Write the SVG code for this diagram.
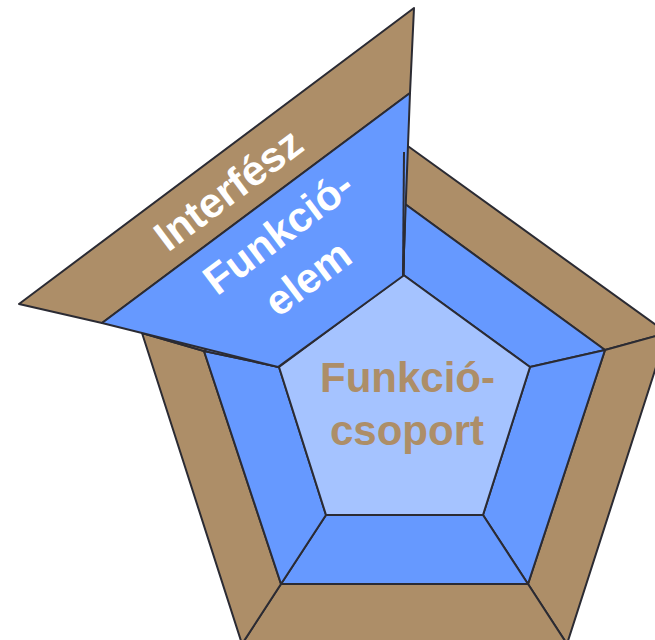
<svg xmlns="http://www.w3.org/2000/svg" width="655" height="640" viewBox="0 0 655 640">
<style>
.br{fill:#AD8E68;stroke:#2B2B33;stroke-width:2;stroke-linejoin:round}
.bl{fill:#6699FF;stroke:#2B2B33;stroke-width:2;stroke-linejoin:round}
.lb{fill:#A5C3FF;stroke:#2B2B33;stroke-width:2;stroke-linejoin:round}
.t{font-family:"Liberation Sans",Arial,sans-serif;font-weight:bold;font-size:42px;text-anchor:middle}
.w{fill:#FFFFFF}
.c{fill:#AD8E68}
</style>
<rect width="655" height="640" fill="#FFFFFF"/>
<g id="ring-outer">
<polygon class="br" points="405,144 667,333 605,350 405,204"/>
<polygon class="br" points="667,333 567,644 528,584 605,350"/>
<polygon class="br" points="567,644 242,644 281,584 528,584"/>
<polygon class="br" points="242,644 142,333 204,351 281,584"/>
<polygon class="br" points="142,333 405,144 405,204 204,351"/>
</g>
<g id="ring-middle">
<polygon class="bl" points="405,204 605,350 530,367 403.5,275"/>
<polygon class="bl" points="605,350 528,584 483,515 530,367"/>
<polygon class="bl" points="528,584 281,584 326,515 483,515"/>
<polygon class="bl" points="281,584 204,351 279,367 326,515"/>
<polygon class="bl" points="204,351 405,204 403.5,275 279,367"/>
</g>
<g id="funkcio-csoport">
<polygon class="lb" points="403.5,275 530,367 483,515 326,515 279,367"/>
<text class="t c" x="407.5" y="392">Funkció-</text>
<text class="t c" x="407" y="445">csoport</text>
</g>
<g id="interfesz">
<polygon class="br" points="414,8 19,304 102,323 410,93"/>
<text class="t w" transform="translate(237,201) rotate(-36.9)" x="0" y="0">Interfész</text>
</g>
<g id="funkcio-elem">
<polygon class="bl" points="410,93 102,323 278,367 403,276"/>
<g transform="translate(287,244) rotate(-36.9)">
<text class="t w" x="0" y="0">Funkció-</text>
<text class="t w" x="-4" y="54">elem</text>
</g>
</g>
<g id="connectors">
<line x1="404" y1="152" x2="403" y2="275" stroke="#2B2B33" stroke-width="2"/>
</g>
</svg>
